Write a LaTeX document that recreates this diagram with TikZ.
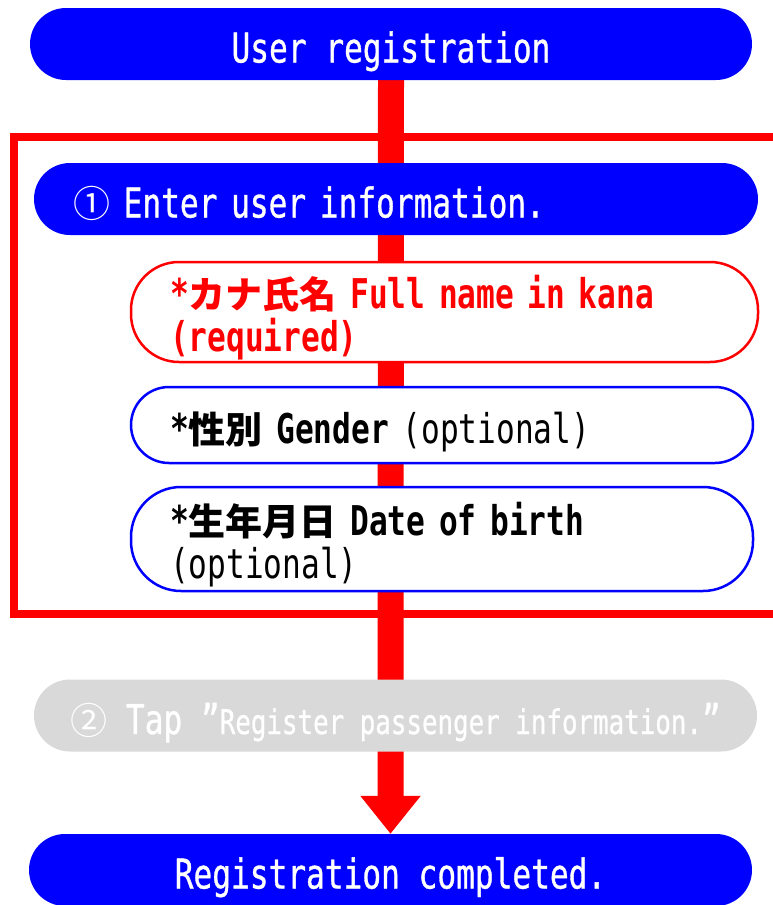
\documentclass[tikz,border=0pt]{standalone}
\usepackage{fontspec}
\newfontfamily\monolatin{DejaVu Sans Mono}[FakeStretch=0.76]
\newfontfamily\headlatin{DejaVu Sans Mono}[FakeStretch=0.76,FakeBold=0.8]
\newfontfamily\cjk{Noto Sans CJK JP}
\usetikzlibrary{arrows.meta,backgrounds}
\definecolor{regblue}{RGB}{0,0,255}
\definecolor{regred}{RGB}{255,0,0}
\definecolor{reggrey}{RGB}{217,217,217}
\newcommand{\jp}[1]{{\cjk\fontsize{37}{43}\selectfont #1}}
\tikzset{
	pill/.style={rectangle, rounded corners=36pt, minimum height=72pt, inner ysep=0pt,
		text height=37pt, text depth=0pt},
	bluepill/.style={pill, fill=regblue, text=white, font=\headlatin\fontsize{41}{43}\selectfont},
	greypill/.style={pill, fill=reggrey, text=white, font=\headlatin\fontsize{41}{43}\selectfont},
	itempill/.style={pill, draw=regblue, line width=2.5pt, fill=white, align=left,
		inner xsep=39pt, font=\monolatin\bfseries\fontsize{41}{43}\selectfont},
	twolines/.style={text height=36pt, text depth=44pt},
	trunk/.style={regred, line width=26pt, -{Triangle[width=58pt,length=38pt]}}
}
\begin{document}
\begin{tikzpicture}[x=1pt,y=-1pt]
	\useasboundingbox (0,0) rectangle (773,905);
	% steps
	\node[bluepill, minimum width=722pt] (start) at (391,44) {User registration};
	\draw[regred, line width=8pt] (14,137) rectangle (790,614);
	\node[bluepill, inner xsep=39pt, text width=646pt, align=left] (enter) at (396,199)
		{\jp{①} Enter user information.};
	\node[itempill, twolines, draw=regred, text=regred, text width=549pt, minimum height=100pt,
		rounded corners=48pt] (kana) at (444.5,312)
		{*\jp{カナ氏名} Full name in kana\\(required)};
	\node[itempill, text width=544pt, minimum height=76pt, rounded corners=38pt] (gender)
		at (442,425) {*\jp{性別} Gender {\mdseries (optional)}};
	\node[itempill, twolines, text width=544pt, minimum height=104pt, rounded corners=50pt] (birth)
		at (442,539) {*\jp{生年月日} Date of birth\\{\mdseries (optional)}};
	\node[greypill, minimum width=723pt] (tap) at (395.5,715.5)
		{\jp{②} Tap ”{\fontsize{34}{43}\selectfont Register passenger information.}”};
	\node[bluepill, minimum width=723pt] (done) at (390.5,870) {Registration completed.};
	% flow
	\begin{scope}[on background layer]
		\draw[trunk] (start.south) -- (done.north);
	\end{scope}
\end{tikzpicture}
\end{document}
